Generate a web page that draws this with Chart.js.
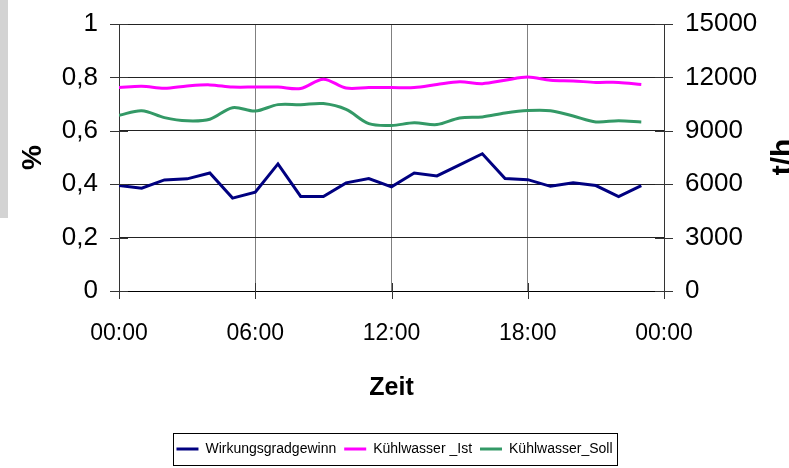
<!DOCTYPE html>
<html><head><meta charset="utf-8">
<script src="https://cdn.jsdelivr.net/npm/chart.js@4/dist/chart.umd.min.js"></script>
<style>html,body{margin:0;padding:0;background:#fff}</style>
</head><body>
<canvas id="c" width="789" height="468"></canvas>
<script>
const hours = [0,1,2,3,4,5,6,7,8,9,10,11,12,13,14,15,16,17,18,19,20,21,22,23];
const xTickLabels = ['00:00','06:00','12:00','18:00','00:00'];
const yTickLabels = ['0','0,2','0,4','0,6','0,8','1'];
const y1TickLabels = ['0','3000','6000','9000','12000','15000'];
const seriesNames = ['Wirkungsgradgewinn','Kühlwasser _Ist','Kühlwasser_Soll'];
const wirkungsgradgewinn = [0.395,0.385,0.416,0.42,0.442,0.348,0.37,0.476,0.354,0.354,0.405,0.421,0.39,0.442,0.431,0.472,0.514,0.421,0.417,0.392,0.405,0.395,0.354,0.395];
const kuehlwasserIst = [11430,11500,11390,11520,11580,11460,11460,11460,11380,11900,11400,11430,11430,11430,11600,11750,11650,11840,12020,11840,11800,11720,11720,11600];
const kuehlwasserSoll = [9870,10130,9740,9560,9650,10300,10110,10470,10470,10530,10200,9400,9300,9450,9350,9720,9780,10000,10140,10130,9830,9500,9570,9500];

const FONT = "'Liberation Sans', Arial, sans-serif";
const toXY = arr => arr.map((v, i) => ({x: hours[i], y: v}));
const fixV = w => s => { s.width = w; s.paddingTop = 0; s.paddingBottom = 0; };

const decor = {
  id: 'decor',
  beforeDraw(chart) {
    const ctx = chart.ctx;
    ctx.save();
    ctx.fillStyle = '#d3d3d3';
    ctx.fillRect(0, 0, 8, 218);
    ctx.restore();
  },
  afterDraw(chart) {
    const ctx = chart.ctx;
    const a = chart.chartArea;
    ctx.save();
    ctx.strokeStyle = '#333';
    ctx.lineWidth = 1;
    ctx.beginPath();
    chart.scales.y.ticks.forEach(t => {
      const y = Math.round(chart.scales.y.getPixelForValue(t.value)) + 0.5;
      ctx.moveTo(a.left - 9, y); ctx.lineTo(a.left + 9, y);
    });
    chart.scales.y1.ticks.forEach(t => {
      const y = Math.round(chart.scales.y1.getPixelForValue(t.value)) + 0.5;
      ctx.moveTo(a.right - 9, y); ctx.lineTo(a.right + 9, y);
    });
    chart.scales.x.ticks.forEach(t => {
      const x = Math.round(chart.scales.x.getPixelForValue(t.value)) + 0.5;
      ctx.moveTo(x, a.bottom - 8); ctx.lineTo(x, a.bottom + 8);
    });
    ctx.stroke();
    // right axis title
    ctx.fillStyle = '#000';
    ctx.font = "bold 30px " + FONT;
    ctx.textAlign = 'center';
    ctx.textBaseline = 'middle';
    ctx.translate(784, 157);
    ctx.rotate(-Math.PI / 2);
    ctx.fillText('t/h', 0, 0);
    ctx.restore();
    // legend border
    const hb = chart.legend.legendHitBoxes;
    if (hb && hb.length) {
      const l = Math.min(...hb.map(h => h.left));
      const r = Math.max(...hb.map(h => h.left + h.width));
      const cy = hb[0].top + hb[0].height / 2;
      ctx.save();
      ctx.strokeStyle = '#000';
      ctx.lineWidth = 1;
      ctx.strokeRect(Math.round(l - 3) + 0.5, Math.round(cy - 16) + 0.5, Math.round(r - l + 8), 32);
      ctx.restore();
    }
  }
};

new Chart(document.getElementById('c'), {
  type: 'line',
  data: {
    datasets: [
      {label: seriesNames[0], data: toXY(wirkungsgradgewinn), yAxisID: 'y', borderColor: '#000080', backgroundColor: '#000080', borderWidth: 3, pointRadius: 0, tension: 0},
      {label: seriesNames[1], data: toXY(kuehlwasserIst), yAxisID: 'y1', borderColor: '#ff00ff', backgroundColor: '#ff00ff', borderWidth: 3, pointRadius: 0, tension: 0.33},
      {label: seriesNames[2], data: toXY(kuehlwasserSoll), yAxisID: 'y1', borderColor: '#339966', backgroundColor: '#339966', borderWidth: 3, pointRadius: 0, tension: 0.33}
    ]
  },
  options: {
    responsive: false,
    animation: false,
    devicePixelRatio: 1,
    layout: {padding: {top: 24, left: 0, right: 0, bottom: 2}},
    plugins: {
      tooltip: {enabled: false},
      legend: {
        position: 'bottom',
        labels: {
          font: {family: FONT, size: 14},
          color: '#000',
          boxWidth: 22,
          boxHeight: 3,
          padding: 8,
          generateLabels(chart) {
            return chart.data.datasets.map((d, i) => ({
              text: d.label, fillStyle: d.borderColor, strokeStyle: d.borderColor,
              lineWidth: 0, hidden: false, datasetIndex: i, fontColor: '#000'
            }));
          }
        }
      }
    },
    scales: {
      x: {
        type: 'linear', position: 'bottom', min: 0, max: 24,
        afterFit: s => { s.height = 143; s.paddingLeft = 0; s.paddingRight = 0; },
        ticks: {stepSize: 6, padding: 29, color: '#000', font: {family: FONT, size: 23},
          callback: v => xTickLabels[Math.round(v / 6)], maxRotation: 0},
        grid: {color: c => (c.tick && (c.tick.value === 0 || c.tick.value === 24)) ? 'rgba(0,0,0,0)' : '#808080', lineWidth: 1, drawTicks: false},
        border: {display: true, color: '#000'},
        title: {display: true, text: 'Zeit', color: '#000', font: {family: FONT, size: 25, weight: 'bold'}, padding: {top: 0, bottom: 31}}
      },
      y: {
        position: 'left', min: 0, max: 1,
        afterFit: fixV(119),
        ticks: {stepSize: 0.2, padding: 21, color: '#000', font: {family: FONT, size: 26},
          callback: v => yTickLabels[Math.round(v / 0.2)]},
        grid: {color: '#222', lineWidth: 1, drawTicks: false},
        border: {display: true, color: '#333'},
        title: {display: true, text: '%', color: '#000', font: {family: FONT, size: 28, weight: 'bold'}, padding: {top: 16, bottom: 0}}
      },
      y1: {
        position: 'right', min: 0, max: 15000,
        afterFit: fixV(125),
        ticks: {stepSize: 3000, padding: 21, color: '#000', font: {family: FONT, size: 26},
          callback: v => y1TickLabels[Math.round(v / 3000)]},
        grid: {drawOnChartArea: false, drawTicks: false},
        border: {display: true, color: '#333'}
      }
    }
  },
  plugins: [decor]
});
</script>
</body></html>
